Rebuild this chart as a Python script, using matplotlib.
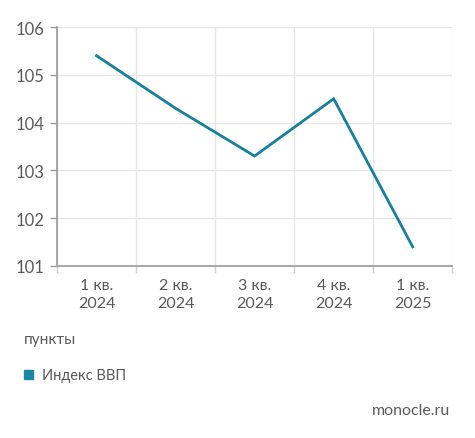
import matplotlib
matplotlib.use("Agg")
import matplotlib.pyplot as plt
from matplotlib.patches import Rectangle

# данные
quarters = ["1 кв.\n2024", "2 кв.\n2024", "3 кв.\n2024", "4 кв.\n2024", "1 кв.\n2025"]
gdp_index = [105.4, 104.3, 103.3, 104.5, 101.4]
y_ticks = [101, 102, 103, 104, 105, 106]

line_color = "#17809c"
text_color = "#5a5a5a"

plt.rcParams['font.family'] = ['Lato', 'DejaVu Sans']

fig = plt.figure(figsize=(4.75, 4.39), dpi=100)
ax = fig.add_axes([0.12, 0.392, 0.832, 0.544])

x = list(range(len(quarters)))
ax.plot(x, gdp_index, color=line_color, lw=2, solid_joinstyle="miter")

ax.set_xlim(-0.5, len(quarters) - 0.5)
ax.set_ylim(101, 106)
ax.set_yticks(y_ticks)
ax.set_yticklabels([str(v) for v in y_ticks], fontsize=12, color=text_color)

# подписи по центру, засечки и сетка по границам
ax.set_xticks(x)
ax.set_xticklabels(quarters, fontsize=11.5, color=text_color, linespacing=1.3)
ax.tick_params(axis="x", which="major", length=0, pad=9)
ax.set_xticks([i - 0.5 for i in range(len(quarters) + 1)], minor=True)
ax.tick_params(axis="x", which="minor", length=5, color="#d0d0d0", width=1)
ax.tick_params(axis="y", length=5, color="#999999", width=1, pad=4)

ax.grid(True, which="minor", axis="x", color="#e6e6e6", lw=1)
ax.grid(True, which="major", axis="y", color="#e6e6e6", lw=1)
ax.set_axisbelow(True)

for s in ["top", "right"]:
    ax.spines[s].set_visible(False)
ax.spines["left"].set_color("#999999")
ax.spines["bottom"].set_color("#aaaaaa")
ax.spines["left"].set_linewidth(1.2)
ax.spines["bottom"].set_linewidth(1.5)

fig.text(24 / 475, 1 - 340 / 439, "пункты", fontsize=11, color=text_color, va="center")
fig.patches.append(Rectangle((24 / 475, 1 - 380 / 439), 9 / 475, 9 / 439,
                             transform=fig.transFigure, color="#1a86a6"))
fig.text(42 / 475, 1 - 376 / 439, "Индекс ВВП", fontsize=10.5, color=text_color, va="center")
fig.text(450 / 475, 1 - 411 / 439, "monocle.ru", fontsize=11.5, color=text_color,
         va="center", ha="right")

fig.savefig("out.png", dpi=100)
